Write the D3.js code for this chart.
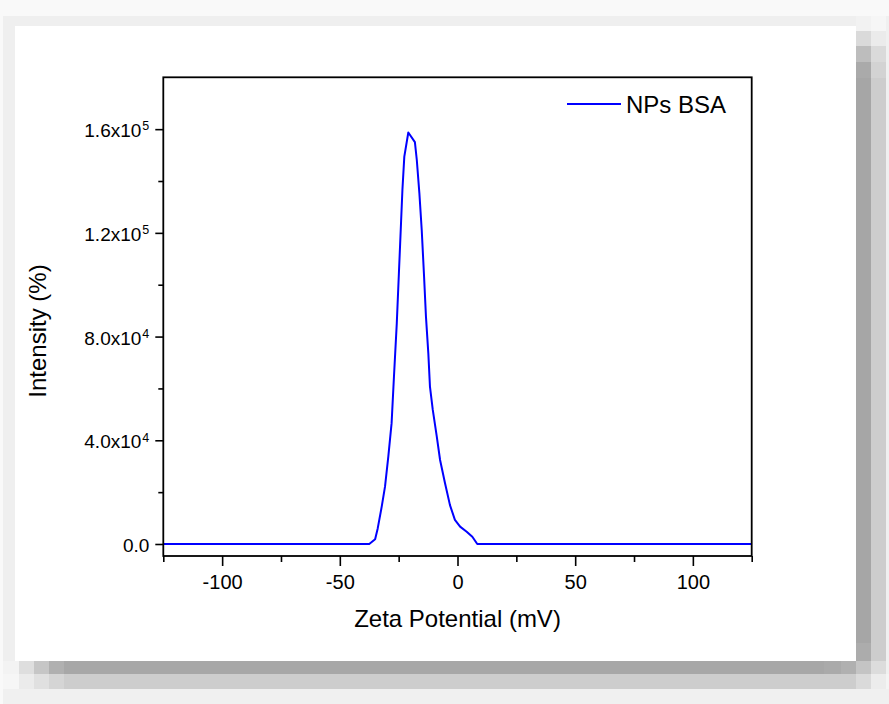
<!DOCTYPE html>
<html>
<head>
<meta charset="utf-8">
<script src="https://cdn.jsdelivr.net/npm/d3@7"></script>
<style>
  html, body { margin: 0; padding: 0; background: #f8f8f8; }
  svg { display: block; }
  text { font-family: "Liberation Sans", Arial, sans-serif; fill: #000; }
</style>
</head>
<body>
<svg id="chart" width="889" height="704"></svg>
<script>
// ---- data ----
const zetaPotential = [-125, -37.5, -35.0, -33.9, -32.2, -30.8, -29.4, -28.0, -27.0, -25.8, -24.9, -24.0, -23.4, -22.6, -20.9,
  -18.1, -17.3, -16.2, -15.2, -14.2, -13.4, -12.4, -11.7, -10.5, -8.8, -7.4, -5.3, -3.2, -1.1, 1.1, 3.9, 6.3, 8.4, 125];
const intensity = [0, 0, 1800, 6000, 14400, 22100, 33700, 46600, 64500, 85100, 104400, 123700, 136600, 149400, 158700,
  155000, 148200, 135300, 121100, 103100, 87700, 73600, 60700, 51700, 41400, 32400, 23400, 15000, 9300, 6700, 4750, 2800, 0, 0];
const seriesName = "NPs BSA";
const xMajorTicks = [-100, -50, 0, 50, 100];
const xMajorLabels = ["-100", "-50", "0", "50", "100"];
const xMinorTicks = [-125, -75, -25, 25, 75, 125];
const yMajorTicks = [0, 40000, 80000, 120000, 160000];
const yMajorLabels = [["0.0", ""], ["4.0x10", "4"], ["8.0x10", "4"], ["1.2x10", "5"], ["1.6x10", "5"]];
const yMinorTicks = [20000, 60000, 100000, 140000];
const xTitle = "Zeta Potential (mV)";
const yTitle = "Intensity (%)";

const svg = d3.select("#chart");

// ---- background card with shadow (blocky gray frame) ----
function box(x0, y0, w, h, c) {
  svg.append("rect").attr("x", x0).attr("y", y0).attr("width", w).attr("height", h).attr("fill", c);
}
box(0, 0, 889, 704, "#f9f9f9");
box(3, 16, 853, 10, "#efefef");
box(3, 16, 12, 645, "#efefef");
box(856, 16, 15, 15, "#f2f2f2");
box(856, 31, 15, 15, "#dadada");
box(856, 46, 15, 16, "#bdbdbd");
box(856, 62, 15, 16, "#aaaaaa");
box(856, 78, 15, 565, "#a6a6a6");
box(856, 643, 15, 18, "#acacac");
box(871, 16, 15, 15, "#f6f6f6");
box(871, 31, 15, 15, "#ebebeb");
box(871, 46, 15, 16, "#dadada");
box(871, 62, 15, 16, "#d3d3d3");
box(871, 78, 15, 583, "#cdcdcd");
box(886, 16, 3, 658, "#f0f0f0");
box(3, 661, 16, 13, "#f3f3f3");
box(19, 661, 15, 13, "#dedede");
box(34, 661, 15, 13, "#c6c6c6");
box(49, 661, 15, 13, "#b0b0b0");
box(64, 661, 760, 13, "#a7a7a7");
box(824, 661, 17, 13, "#aaaaaa");
box(841, 661, 15, 13, "#b0b0b0");
box(856, 661, 15, 13, "#c4c4c4");
box(871, 661, 15, 13, "#dcdcdc");
box(886, 661, 3, 13, "#f0f0f0");
box(3, 674, 16, 15, "#f6f6f6");
box(19, 674, 15, 15, "#ebebeb");
box(34, 674, 15, 15, "#e0e0e0");
box(49, 674, 15, 15, "#d5d5d5");
box(64, 674, 792, 15, "#cdcdcd");
box(856, 674, 15, 15, "#dadada");
box(871, 674, 15, 15, "#ececec");
box(886, 674, 3, 15, "#f4f4f4");
box(3, 689, 886, 15, "#f0f0f0");
box(15, 26, 841, 635, "#ffffff");

// ---- plot ----
const pLeft = 163.3, pRight = 751.7, pTop = 77.3, pBottom = 556;
const x = d3.scaleLinear().domain([-125, 125]).range([pLeft, pRight]);
const y = d3.scaleLinear().domain([-4630, 180000]).range([pBottom, pTop]);

// curve
const line = d3.line().x((d, i) => x(zetaPotential[i])).y(d => y(d));
svg.append("path").datum(intensity)
  .attr("d", line)
  .attr("fill", "none").attr("stroke", "#0000ff").attr("stroke-width", 2)
  .attr("stroke-linejoin", "round");

// frame
svg.append("rect").attr("x", pLeft).attr("y", pTop).attr("width", pRight - pLeft).attr("height", pBottom - pTop)
  .attr("fill", "none").attr("stroke", "#000").attr("stroke-width", 1.8);

// x axis
const xMinor = svg.append("g").attr("transform", `translate(0,${pBottom})`)
  .call(d3.axisBottom(x).tickValues(xMinorTicks).tickSize(6).tickFormat(""));
const xMajor = svg.append("g").attr("transform", `translate(0,${pBottom})`)
  .call(d3.axisBottom(x).tickValues(xMajorTicks).tickSize(10).tickPadding(9)
    .tickFormat((d, i) => xMajorLabels[i]));
[xMinor, xMajor].forEach(g => {
  g.select(".domain").remove();
  g.selectAll("line").attr("stroke", "#000").attr("stroke-width", 1.6);
});
xMajor.selectAll("text").style("font-size", "20px").attr("fill", "#000")
  .style("font-family", '"Liberation Sans", Arial, sans-serif');

// y axis
const yMinor = svg.append("g").attr("transform", `translate(${pLeft},0)`)
  .call(d3.axisLeft(y).tickValues(yMinorTicks).tickSize(5).tickFormat(""));
const yMajor = svg.append("g").attr("transform", `translate(${pLeft},0)`)
  .call(d3.axisLeft(y).tickValues(yMajorTicks).tickSize(8).tickPadding(6).tickFormat(""));
[yMinor, yMajor].forEach(g => {
  g.select(".domain").remove();
  g.selectAll("line").attr("stroke", "#000").attr("stroke-width", 1.6);
});
yMajor.selectAll("text").each(function (d, i) {
  const t = d3.select(this)
    .style("font-size", "19px").attr("fill", "#000")
    .style("font-family", '"Liberation Sans", Arial, sans-serif')
    .attr("dy", "0.4em");
  const lab = yMajorLabels[i];
  t.append("tspan").text(lab[0]);
  if (lab[1]) {
    t.append("tspan").text(lab[1]).attr("dy", "-0.55em").attr("dx", "1").style("font-size", "12.5px");
  }
});

// titles
svg.append("text").attr("x", (pLeft + pRight) / 2).attr("y", 627)
  .attr("text-anchor", "middle").style("font-size", "24px").text(xTitle);
svg.append("text").attr("transform", "translate(46,331) rotate(-90)")
  .attr("text-anchor", "middle").style("font-size", "24px").text(yTitle);

// legend
svg.append("line").attr("x1", 567).attr("x2", 621).attr("y1", 104).attr("y2", 104)
  .attr("stroke", "#0000ff").attr("stroke-width", 2);
svg.append("text").attr("x", 626).attr("y", 112.5).style("font-size", "24px").text(seriesName);
</script>
</body>
</html>
